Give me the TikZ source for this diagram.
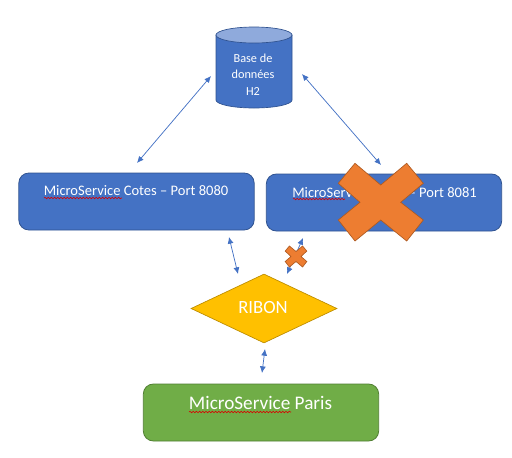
\documentclass[tikz,border=0pt]{standalone}
\usepackage{fontspec}
\setmainfont{Carlito}
\usetikzlibrary{shapes.geometric,arrows.meta,decorations.pathmorphing}
\definecolor{blueF}{HTML}{4472C4}
\definecolor{blueD}{HTML}{2F528F}
\definecolor{blueL}{HTML}{8FAADC}
\definecolor{orangeF}{HTML}{ED7D31}
\definecolor{orangeD}{HTML}{AE5A21}
\definecolor{goldF}{HTML}{FFC000}
\definecolor{goldD}{HTML}{BC8C00}
\definecolor{greenF}{HTML}{70AD47}
\definecolor{greenD}{HTML}{507E32}
\tikzset{
  svcbox/.style={rectangle,rounded corners=7.5pt,draw=#1,line width=0.6pt,minimum width=176.5pt,minimum height=42.75pt,inner sep=0pt},
  link/.style={draw=blueF,line width=0.55pt,{Latex[length=5pt,width=4.5pt]}-{Latex[length=5pt,width=4.5pt]}},
  cross/.style={fill=orangeF,draw=orangeD,line width=0.5pt},
  dbshape/.style={draw=blueD,line width=0.5pt},
  label/.style={text=white,inner sep=0pt,align=center},
  spell/.style={draw=red!85!black,line width=0.45pt,decorate,decoration={snake,amplitude=0.55pt,segment length=2.4pt}}
}
\begin{document}
\begin{tikzpicture}[x=0.75pt,y=-0.75pt]
\useasboundingbox (0,0) rectangle (512,458);
% database
\path[dbshape,fill=blueF] (216,35) -- (216,100) .. controls (216,104.4) and (233,108) .. (254,108) .. controls (275,108) and (292,104.4) .. (292,100) -- (292,35) -- cycle;
\path[dbshape,fill=blueL] (216,35) .. controls (216,30.6) and (233,27) .. (254,27) .. controls (275,27) and (292,30.6) .. (292,35) .. controls (292,39.4) and (275,43) .. (254,43) .. controls (233,43) and (216,39.4) .. (216,35) -- cycle;
\node[label,font=\fontsize{9.2pt}{12.4pt}\selectfont] (db) at (253,74.5) {Base de\\données\\H2};
% services
\node[svcbox=blueD,fill=blueF] (cotes) at (136.5,201.5) {};
\node[label,font=\fontsize{10.9pt}{12pt}\selectfont] (cotestext) at (136,191) {MicroService Cotes – Port 8080};
\node[svcbox=blueD,fill=blueF] (other) at (384,202.5) {};
\node[label,font=\fontsize{10.9pt}{12pt}\selectfont] (othertext) at (384.5,193) {MicroService Cotes – Port 8081};
\node[diamond,aspect=2.1,fill=goldF,draw=goldD,line width=0.5pt,minimum width=109.5pt,minimum height=51.75pt,inner sep=0pt] (ribon) at (264,308.5) {};
\node[label,font=\fontsize{14pt}{16pt}\selectfont] (ribontext) at (263,308) {RIBON};
\node[svcbox=greenD,fill=greenF] (paris) at (261,412.5) {};
\node[label,font=\fontsize{14.4pt}{16pt}\selectfont] (paristext) at (260.5,403) {MicroService Paris};
% spelling marks
\draw[spell] (44,198) -- (122,198);
\draw[spell] (293,199) -- (345,199);
\draw[spell] (189,412) -- (291,412);
% link ends
\coordinate (a1) at (137,163); \coordinate (a2) at (211,76);
\coordinate (b1) at (302,74);  \coordinate (b2) at (381,165);
\coordinate (c1) at (229,237); \coordinate (c2) at (238,274);
\coordinate (d1) at (303,238); \coordinate (d2) at (287,274);
\coordinate (e1) at (265,349); \coordinate (e2) at (262,373);
\draw[link] (a1) -- (a2);
\draw[link] (b1) -- (b2);
\draw[link] (c1) -- (c2);
\draw[link] (d1) -- (d2);
\draw[link] (e1) -- (e2);
% crosses
\draw[cross] (355,163.3) -- (380.7,185) -- (406.7,163.3) -- (423.3,183.3) -- (400.7,202.3) -- (423.3,220) -- (406.7,241) -- (380.7,220) -- (355,241) -- (338.3,220) -- (360,202.3) -- (338.3,183.3) -- cycle;
\begin{scope}[shift={(296,256.5)}]
\draw[cross] (-6.6,-10.5) -- (0,-5) -- (6.6,-10.5) -- (10.8,-5.4) -- (5,0) -- (10.8,5) -- (6.6,10.5) -- (0,5) -- (-6.6,10.5) -- (-10.8,5) -- (-5,0) -- (-10.8,-5.4) -- cycle;
\end{scope}
\end{tikzpicture}
\end{document}
